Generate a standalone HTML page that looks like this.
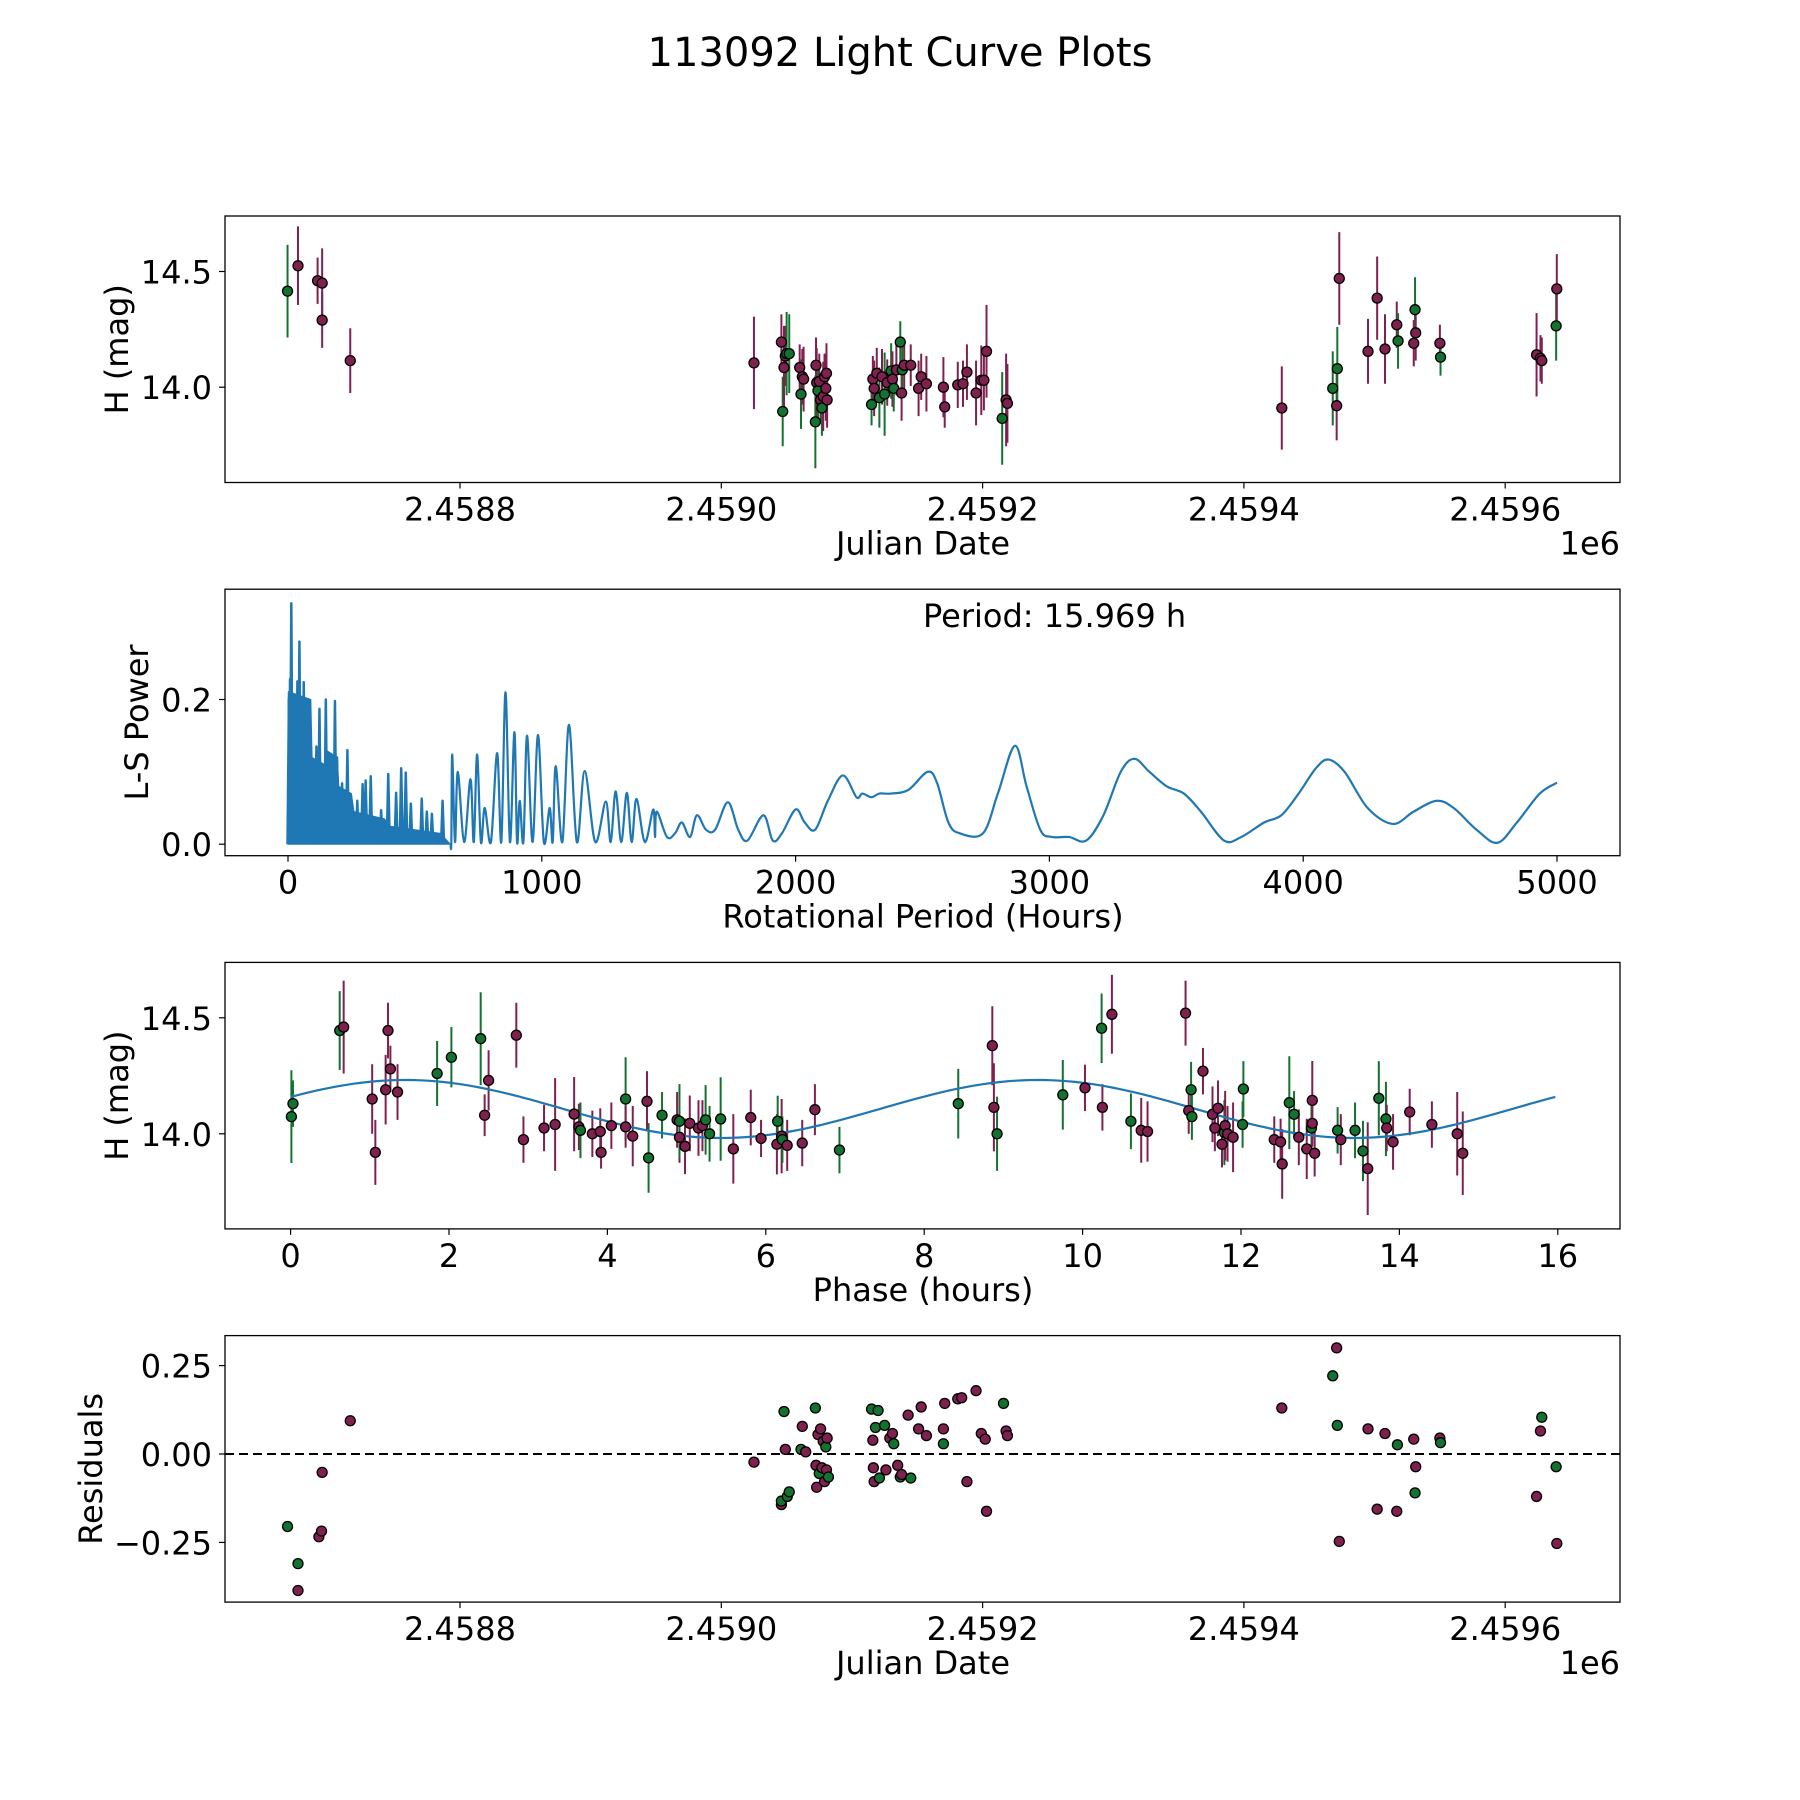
<!DOCTYPE html>
<html><head><meta charset="utf-8"><title>113092 Light Curve Plots</title>
<style>
html,body{margin:0;padding:0;background:#fff;}
svg{display:block;font-family:"DejaVu Sans","Liberation Sans",sans-serif;}
</style></head>
<body>
<svg id="fig" width="1800" height="1800" viewBox="0 0 1800 1800" xmlns="http://www.w3.org/2000/svg">
<rect width="1800" height="1800" fill="#fff"/>
<text x="900" y="66" font-size="40" text-anchor="middle">113092 Light Curve Plots</text>
<g id="root"></g>
</svg>
<script>
// ---------- data ----------
const jd = [2458668,2458676,2458691,2458694.5,2458694.5,2458716,
2459025,2459046,2459047,2459048,2459049,2459050,2459052,2459060,2459061,2459062,2459063,2459072,2459072.5,2459073,2459074,2459075,2459076,2459077,2459078,2459079,2459080,2459080.5,2459081,
2459115,2459116,2459117,2459119,2459121,2459123,2459125,2459127,2459130,2459131,2459132,2459134,2459137,2459138,2459138.5,2459140,2459145,2459151,2459153,2459157,2459170,2459171,2459181,2459185,2459188,2459195,2459199,2459201,2459203,2459215,2459218,2459219,
2459429,2459468,2459471,2459471.5,2459473,2459495,2459502,2459508,2459517,2459518,2459530,2459531,2459531.5,2459550,2459550.5,2459624,2459627,2459628,2459639,2459639.5];
const mag = [14.415,14.525,14.46,14.45,14.29,14.115,
14.105,14.195,13.895,14.085,14.135,14.145,14.145,14.085,13.97,14.045,14.035,13.85,14.095,14.02,13.985,14.025,13.945,13.91,13.96,14.045,13.995,14.06,13.945,
13.925,14.035,13.995,14.06,13.955,14.045,13.97,14.02,14.07,14.035,13.995,14.075,14.195,13.975,14.075,14.095,14.095,13.995,14.045,14.015,14.0,13.915,14.01,14.015,14.065,13.975,14.03,14.03,14.155,13.865,13.945,13.93,
13.91,13.995,13.92,14.08,14.47,14.155,14.385,14.165,14.27,14.2,14.19,14.335,14.235,14.19,14.13,14.14,14.125,14.115,14.265,14.425];
const magErr = [0.2,0.17,0.1,0.15,0.12,0.14,
0.2,0.12,0.15,0.18,0.13,0.18,0.17,0.1,0.15,0.12,0.14,0.2,0.12,0.15,0.13,0.12,0.1,0.12,0.15,0.1,0.14,0.13,0.12,
0.09,0.1,0.12,0.11,0.13,0.12,0.18,0.1,0.12,0.12,0.1,0.11,0.09,0.12,0.1,0.1,0.09,0.12,0.1,0.12,0.13,0.09,0.1,0.1,0.12,0.14,0.15,0.13,0.2,0.2,0.2,0.17,
0.18,0.16,0.15,0.18,0.2,0.14,0.18,0.15,0.1,0.12,0.1,0.14,0.12,0.08,0.08,0.18,0.1,0.1,0.15,0.15];
const band = "GPPPPPPPGPPGGPGPPGPPGPPGPPPPPGPPPGPGPGPGPGPGPPPPPPPPPPPPPPGPPPGPGPPPPPGPGPPGPPPGP".split("");

const resJd = [2458668,2458676,2458676,2458692,2458694,2458694.5,2458716,
2459025,2459046,2459046,2459048,2459049,2459050.5,2459052,2459061,2459062,2459064.6,2459072,2459072.5,2459073,2459074,2459075,2459076,2459077,2459078,2459079,2459080,2459080.5,2459081,2459082,
2459115,2459116,2459116.4,2459117,2459118,2459120,2459121,2459125,2459126,2459129,2459131,2459132,2459135,2459137,2459138,2459143,2459145,2459151,2459153,2459157,2459170,2459170,2459171,2459181,2459184,2459188,2459195,2459199,2459202,2459203,2459216,2459218,2459219,
2459429,2459468,2459471,2459471.5,2459473,2459495,2459502,2459508,2459517,2459517.5,2459530,2459531,2459531.5,2459550,2459550.5,2459624,2459627,2459628,2459639,2459639.5];
const resVal = [-0.205,-0.31,-0.386,-0.234,-0.218,-0.052,0.094,
-0.023,-0.143,-0.133,0.12,0.013,-0.12,-0.107,0.013,0.078,0.006,0.13,-0.032,-0.094,0.055,-0.055,0.071,-0.039,0.036,-0.078,0.02,-0.045,0.045,-0.065,
0.127,0.039,-0.039,-0.078,0.075,0.123,-0.068,0.081,-0.045,0.045,0.058,0.029,-0.032,-0.065,-0.058,0.11,-0.068,0.071,0.133,0.052,0.071,0.029,0.143,0.156,0.159,-0.078,0.179,0.058,0.042,-0.162,0.143,0.065,0.052,
0.13,0.221,0.3,0.081,-0.247,0.071,-0.156,0.058,-0.162,0.026,0.042,-0.11,-0.036,0.045,0.032,-0.12,0.065,0.104,-0.036,-0.253];
const resBand = ("GGPPPPP"+"PPGGPGGGPPGPPPGPPPPGPPG"+"GPPPGGGGPPPGPGPPGPPPPGPPPPPPPPGPP"+"PGPGPPPPPGPGPPGPPGGP").split("");

const phase = [0.01,0.03,0.62,0.67,1.03,1.07,1.2,1.23,1.26,1.35,1.85,2.03,2.4,2.45,2.5,2.85,2.94,3.2,3.34,3.58,3.64,3.66,3.81,3.91,3.92,4.05,4.23,4.23,4.32,4.52,4.5,4.69,4.88,4.91,4.91,4.98,5.04,5.15,5.2,5.24,5.29,5.43,5.59,5.81,5.94,6.14,6.15,6.2,6.21,6.27,6.46,6.62,6.93,8.43,8.86,8.88,8.92,9.75,10.03,10.24,10.25,10.37,10.61,10.74,10.82,11.3,11.34,11.37,11.38,11.52,11.64,11.67,11.71,11.76,11.79,11.8,11.83,11.9,12.02,12.03,12.42,12.5,12.52,12.61,12.67,12.73,12.83,12.89,12.9,12.9,12.93,13.22,13.26,13.44,13.54,13.6,13.74,13.83,13.84,13.92,14.13,14.41,14.73,14.8];
const phaseMag = [14.074,14.13,14.445,14.46,14.15,13.92,14.19,14.445,14.28,14.18,14.26,14.33,14.41,14.08,14.23,14.425,13.975,14.025,14.04,14.085,14.03,14.015,14.0,14.01,13.92,14.035,14.15,14.03,13.99,13.896,14.14,14.08,14.06,13.985,14.054,13.946,14.045,14.025,14.035,14.06,14.0,14.064,13.935,14.07,13.98,13.955,14.054,13.99,13.975,13.95,13.96,14.104,13.93,14.13,14.38,14.114,14.0,14.168,14.198,14.455,14.114,14.515,14.054,14.015,14.01,14.52,14.1,14.19,14.074,14.27,14.084,14.025,14.11,13.955,14.005,14.035,14.0,13.985,14.04,14.193,13.975,13.965,13.87,14.134,14.084,13.985,13.935,14.025,14.045,14.144,13.916,14.015,13.975,14.015,13.926,13.85,14.153,14.064,14.025,13.965,14.094,14.04,14.0,13.916];
const phaseErr = [0.2,0.1,0.17,0.2,0.15,0.14,0.15,0.12,0.1,0.12,0.14,0.13,0.2,0.09,0.13,0.14,0.1,0.1,0.2,0.16,0.1,0.12,0.1,0.1,0.07,0.1,0.18,0.09,0.13,0.15,0.13,0.1,0.12,0.11,0.16,0.12,0.12,0.12,0.11,0.15,0.12,0.18,0.15,0.12,0.08,0.13,0.11,0.16,0.1,0.11,0.1,0.11,0.1,0.15,0.17,0.19,0.16,0.15,0.1,0.15,0.1,0.17,0.12,0.14,0.13,0.14,0.1,0.12,0.1,0.1,0.12,0.1,0.12,0.1,0.14,0.15,0.12,0.15,0.1,0.12,0.1,0.1,0.15,0.2,0.1,0.12,0.13,0.1,0.1,0.17,0.1,0.1,0.11,0.12,0.13,0.2,0.16,0.16,0.1,0.12,0.1,0.1,0.18,0.18];
const phaseBand = "GGGPPPPPPPGGGPPPPPPPPGPPPPGPPGPGPPGPPPPGGGPPPPGPGPPPGGPPGGPGPPGPPPPGGPPPPPGPPPGGPPPGGPPGPPPGPGGPGGPPPPPPPGP".split("");

// periodogram
const denseP = [4,8,13,37,45,62,72,89,112,124,149,185,193,213,234,255,273,294,306,326,367,395,426,446,464,484,527,547,567,609];
const denseH = [0.21,0.228,0.333,0.225,0.28,0.224,0.16,0.11,0.135,0.187,0.2,0.198,0.12,0.084,0.13,0.049,0.06,0.083,0.088,0.094,0.047,0.097,0.071,0.105,0.099,0.056,0.063,0.045,0.042,0.06];
const fillP = [0,10,90,95,145,150,195,200,250,260,380,400,600,640];
const fillH = [0.2,0.21,0.2,0.12,0.11,0.13,0.12,0.08,0.07,0.045,0.035,0.025,0.015,0];
const midP = [647,669,719,745,775,824,857,892,913,942,985,1031,1055,1107,1169,1252,1291,1335,1373,1439];
const midH = [0.124,0.10,0.09,0.124,0.05,0.126,0.21,0.155,0.06,0.15,0.151,0.05,0.108,0.165,0.101,0.059,0.073,0.071,0.0625,0.048];
const tailP = [1453,1493,1525,1552,1584,1611,1647,1683,1733,1774,1810,1873,1910,1946,2000,2036,2077,2127,2186,2240,2263,2299,2330,2376,2444,2520,2557,2602,2647,2738,2797,2864,2910,2964,3009,3077,3145,3213,3281,3335,3394,3462,3530,3597,3688,3756,3846,3914,3982,4050,4100,4163,4254,4353,4435,4525,4593,4683,4765,4842,4932,5000];
const tailH = [0.045,0.01,0.015,0.03,0.01,0.04,0.02,0.02,0.058,0.02,0.005,0.04,0.005,0.015,0.048,0.03,0.02,0.06,0.095,0.065,0.07,0.065,0.07,0.07,0.075,0.1,0.085,0.03,0.015,0.015,0.07,0.136,0.08,0.02,0.01,0.01,0.005,0.04,0.1,0.118,0.1,0.08,0.07,0.045,0.005,0.01,0.03,0.04,0.07,0.105,0.117,0.1,0.05,0.028,0.045,0.06,0.05,0.02,0.002,0.03,0.07,0.085];

const xTicksJd = [2458800,2459000,2459200,2459400,2459600];
const xTickJdLabels = ["2.4588","2.4590","2.4592","2.4594","2.4596"];
const magTicks = [14.0,14.5]; const magTickLabels = ["14.0","14.5"];
const perTicks = [0,1000,2000,3000,4000,5000];
const powTicks = [0,0.2]; const powTickLabels = ["0.0","0.2"];
const phTicks = [0,2,4,6,8,10,12,14,16];
const resTicks = [0.25,0,-0.25]; const resTickLabels = ["0.25","0.00","\u22120.25"];
const fitPeriod = 15.969;

// ---------- layout ----------
const NS = "http://www.w3.org/2000/svg";
const root = document.getElementById('root');
const L = 225, R = 1620, H = 266.5;
const tops = [216, 589.2, 962.4, 1335.6];
const COL = {P:'#80204f', G:'#13722f'};
function el(tag, attrs, parent){ const e=document.createElementNS(NS,tag); for(const k in attrs) e.setAttribute(k,attrs[k]); (parent||root).appendChild(e); return e; }

const xJd = v => 460 + (v-2458800)*1.3065;
const yMag1 = v => 387.2 - (v-14)*231.4;
const xPer = v => 288 + v*0.2538;
const yPow = v => 844.2 - v*723.5;
const xPh = v => 290.6 + v*79.2;
const yMag3 = v => 1133.8 - (v-14)*232;
const yRes = v => 1454 - v*353.7;

function smoothPath(pts){
  let d='M'+pts[0][0]+','+pts[0][1];
  for(let i=0;i<pts.length-1;i++){
    const p0=pts[Math.max(0,i-1)], p1=pts[i], p2=pts[i+1], p3=pts[Math.min(pts.length-1,i+2)];
    const c1x=p1[0]+(p2[0]-p0[0])/6, c1y=p1[1]+(p2[1]-p0[1])/6;
    const c2x=p2[0]-(p3[0]-p1[0])/6, c2y=p2[1]-(p3[1]-p1[1])/6;
    d+=' C'+c1x+','+c1y+' '+c2x+','+c2y+' '+p2[0]+','+p2[1];
  }
  return d;
}

function axes(i, name){
  const g = el('g',{});
  
  
  const r = el('rect',{x:L,y:tops[i],width:R-L,height:H,fill:'none',stroke:'#000','stroke-width':1.3},g);
  
  
  return g;
}
function xtick(g, x, yb, label, nm){
  el('line',{x1:x,x2:x,y1:yb,y2:yb+6,stroke:'#000','stroke-width':1.2},g);
  const t = el('text',{x:x,y:yb+38,'font-size':32,'text-anchor':'middle'},g);
  t.textContent = label;
  
  
}
function ytick(g, y, label, nm){
  el('line',{x1:L-6,x2:L,y1:y,y2:y,stroke:'#000','stroke-width':1.2},g);
  const t = el('text',{x:212,y:y+12,'font-size':32,'text-anchor':'end'},g);
  t.textContent = label;
  
  
}
function label(g, txt, x, y, rot, nm){
  const t = el('text',{x:x,y:y,'font-size':32,'text-anchor':'middle'},g);
  if(rot) t.setAttribute('transform','rotate(-90 '+x+' '+y+')');
  t.textContent = txt;
  
  
}
function point(g, x, y, c, nm){
  const p = el('circle',{cx:x,cy:y,r:5,fill:c,stroke:'#000','stroke-width':1.3},g);
  
  
}
function errbar(g, x, y1, y2, c){
  const e = el('line',{x1:x,x2:x,y1:y1,y2:y2,stroke:c,'stroke-width':2},g);
  
  
}

// ---------- panel 1 ----------
(function(){
  const g = axes(0,'light-curve-panel');
  const b = tops[0]+H;
  xTicksJd.forEach((v,k)=>xtick(g,xJd(v),b,xTickJdLabels[k],'x-tick-label'));
  magTicks.forEach((v,k)=>ytick(g,yMag1(v),magTickLabels[k],'y-tick-label'));
  label(g,'Julian Date',923,b+72,false,'x-axis-title');
  const e6 = el('text',{x:R,y:b+72,'font-size':32,'text-anchor':'end'},g); e6.textContent='1e6';
   
  label(g,'H (mag)',128,tops[0]+H/2,true,'y-axis-title');
  jd.forEach((v,k)=>errbar(g,xJd(v),yMag1(mag[k]+magErr[k]),yMag1(mag[k]-magErr[k]),COL[band[k]]));
  jd.forEach((v,k)=>point(g,xJd(v),yMag1(mag[k]),COL[band[k]],'data-point'));
})();

// ---------- panel 2 ----------
(function(){
  const g = axes(1,'periodogram-panel');
  const b = tops[1]+H;
  perTicks.forEach(v=>xtick(g,xPer(v),b,String(v),'x-tick-label'));
  powTicks.forEach((v,k)=>ytick(g,yPow(v),powTickLabels[k],'y-tick-label'));
  label(g,'Rotational Period (Hours)',923,b+72,false,'x-axis-title');
  label(g,'L-S Power',148,tops[1]+H/2,true,'y-axis-title');
  const c='#1f77b4';
  let d='M'+xPer(fillP[0])+','+yPow(0);
  fillP.forEach((p,k)=>{ d+=' L'+xPer(p)+','+yPow(fillH[k]); });
  d+=' L'+xPer(fillP[fillP.length-1])+','+yPow(0)+' Z';
  const f = el('path',{d:d,fill:c,stroke:c,'stroke-width':1},g);
   
  let s='';
  denseP.forEach((p,k)=>{ s+='M'+(xPer(p)-1.5)+','+yPow(0)+' L'+xPer(p)+','+yPow(denseH[k])+' L'+(xPer(p)+1.5)+','+yPow(0)+' '; });
  const sp = el('path',{d:s,fill:c,stroke:c,'stroke-width':2.5,'stroke-linejoin':'round'},g);
   
  const pts=[[xPer(fillP[fillP.length-1]),yPow(0)]];
  midP.forEach((p,k)=>{
    const prev = k? midP[k-1] : fillP[fillP.length-1];
    pts.push([xPer((prev+p)/2),yPow(0.003)]);
    pts.push([xPer(p),yPow(midH[k])]);
  });
  pts.push([xPer((midP[midP.length-1]+tailP[0])/2),yPow(0.01)]);
  tailP.forEach((p,k)=>pts.push([xPer(p),yPow(tailH[k])]));
  const ln = el('path',{d:smoothPath(pts),fill:'none',stroke:c,'stroke-width':2.2,'stroke-linejoin':'round'},g);
   
  const t = el('text',{x:923,y:627,'font-size':32},g);
  t.textContent='Period: '+fitPeriod.toFixed(3)+' h';
   
})();

// ---------- panel 3 ----------
(function(){
  const g = axes(2,'phase-fold-panel');
  const b = tops[2]+H;
  phTicks.forEach(v=>xtick(g,xPh(v),b,String(v),'x-tick-label'));
  magTicks.forEach((v,k)=>ytick(g,yMag3(v),magTickLabels[k],'y-tick-label'));
  label(g,'Phase (hours)',923,b+72,false,'x-axis-title');
  label(g,'H (mag)',128,tops[2]+H/2,true,'y-axis-title');
  phase.forEach((v,k)=>errbar(g,xPh(v),yMag3(phaseMag[k]+phaseErr[k]),yMag3(phaseMag[k]-phaseErr[k]),COL[phaseBand[k]]));
  let d='';
  for(let i=0;i<=200;i++){ const t=fitPeriod*i/200; const m=14.107+0.125*Math.cos(2*Math.PI*(t-1.45)/(fitPeriod/2)); d+=(i?' L':'M')+xPh(t)+','+yMag3(m); }
  const fit = el('path',{d:d,fill:'none',stroke:'#1f77b4','stroke-width':2.2},g);
   
  phase.forEach((v,k)=>point(g,xPh(v),yMag3(phaseMag[k]),COL[phaseBand[k]],'phase-point'));
})();

// ---------- panel 4 ----------
(function(){
  const g = axes(3,'residuals-panel');
  const b = tops[3]+H;
  xTicksJd.forEach((v,k)=>xtick(g,xJd(v),b,xTickJdLabels[k],'x-tick-label'));
  resTicks.forEach((v,k)=>ytick(g,yRes(v),resTickLabels[k],'y-tick-label'));
  label(g,'Julian Date',923,b+72,false,'x-axis-title');
  const e6 = el('text',{x:R,y:b+72,'font-size':32,'text-anchor':'end'},g); e6.textContent='1e6';
   
  label(g,'Residuals',102,tops[3]+H/2,true,'y-axis-title');
  const z = el('line',{x1:L,x2:R,y1:yRes(0),y2:yRes(0),stroke:'#000','stroke-width':2,'stroke-dasharray':'9,5'},g);
   
  resJd.forEach((v,k)=>point(g,xJd(v),yRes(resVal[k]),COL[resBand[k]] || COL.P,'residual-point'));
})();
</script>
</body></html>
